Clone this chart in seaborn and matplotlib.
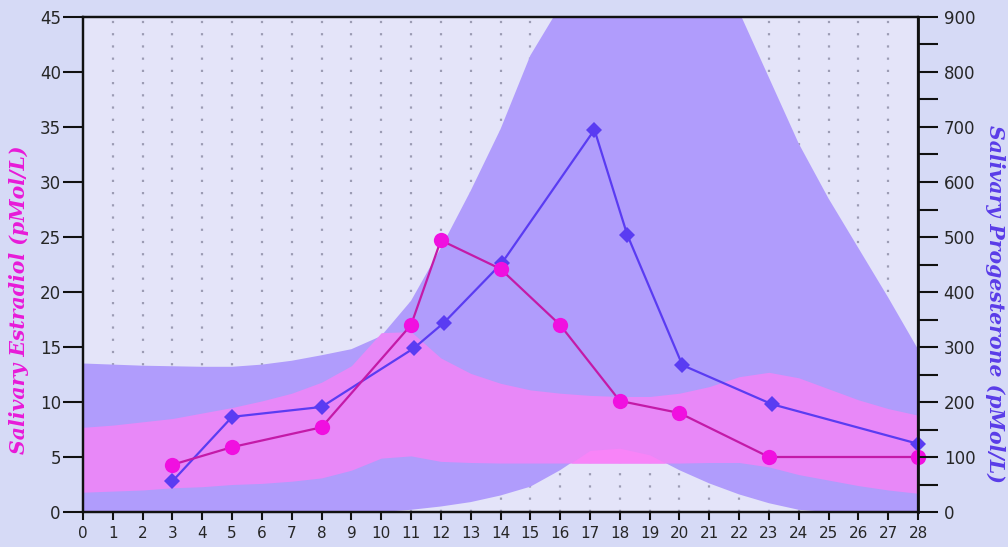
import numpy as np
import pandas as pd
import matplotlib
matplotlib.use("Agg")
import matplotlib.pyplot as plt
from matplotlib.ticker import MultipleLocator
import seaborn as sns

# ---- measured salivary hormone levels over the cycle ----
estradiol_days = [3, 5, 8, 11, 12, 14, 16, 18, 20, 23, 28]
estradiol_vals = [4.3, 5.9, 7.7, 17.0, 24.7, 22.1, 17.0, 10.1, 9.0, 5.0, 5.0]

progesterone_days = [3, 5, 8, 11.1, 12.1, 14.05, 17.15, 18.25, 20.1, 23.1, 28]
progesterone_vals = [56, 173, 191, 298, 344, 453, 695, 504, 267, 196, 124]

# ---- reference ranges (by cycle day) ----
band_days = list(range(0, 29))
# estradiol range, pMol/L (left axis)
estradiol_low = [1.8, 1.9, 2.0, 2.2, 2.3, 2.5, 2.6, 2.8, 3.1, 3.8, 4.9, 5.1, 4.6,
                 4.5, 4.45, 4.45, 4.45, 4.45, 4.45, 4.45, 4.45, 4.5, 4.5, 4.1,
                 3.4, 2.9, 2.4, 2.0, 1.7]
estradiol_high = [7.7, 7.9, 8.2, 8.5, 9.0, 9.5, 10.1, 10.8, 11.8, 13.3, 16.3, 16.4,
                  14.0, 12.6, 11.7, 11.1, 10.8, 10.6, 10.5, 10.5, 10.8, 11.4, 12.3,
                  12.7, 12.2, 11.2, 10.2, 9.4, 8.8]
# progesterone range, pMol/L (right axis)
progesterone_low = [0, 0, 0, 0, 0, 0, 0, 0, 0, 0, 0, 4, 10, 18, 30, 46, 76, 112,
                    116, 104, 76, 52, 32, 16, 4, 0, 0, 0, 0]
progesterone_high = [270, 268, 266, 265, 264, 264, 268, 275, 285, 296, 320, 384,
                     480, 584, 696, 830, 920, 960, 1000, 1000, 980, 950, 910, 790,
                     670, 570, 480, 390, 296]

day_ticks = list(range(0, 29))
estradiol_ticks = list(range(0, 46, 5))
progesterone_ticks = list(range(0, 901, 100))

E_MAX = 45
P_MAX = 900

sns.set_theme(style="white")
plt.rcParams["font.family"] = ["DejaVu Sans"]

FIG_BG = "#d6daf6"
AX_BG = "#e4e4f9"
PURPLE = "#b09cfc"
PINK = "#e888f8"
BRIGHT_PINK = "#f884f8"
E_LINE = "#c41aa8"
E_MARK = "#f010e0"
P_COLOR = "#5a3cf2"
INK = "#111111"

fig = plt.figure(figsize=(10.08, 5.47), dpi=100, facecolor=FIG_BG)
ax = fig.add_axes([83 / 1008, 35 / 547, 835 / 1008, 495 / 547])
ax.set_facecolor(AX_BG)
ax2 = ax.twinx()
ax2.patch.set_visible(False)

ax.set_xlim(0, 28)
ax.set_ylim(0, E_MAX)
ax2.set_ylim(0, P_MAX)

# dotted day guides
ax.vlines(day_ticks[1:-1], 0, E_MAX, colors="#9c9cb4", linestyles=(0, (1, 4.5)),
          linewidth=1.6, zorder=0.5)

days = np.array(band_days, dtype=float)
p_lo = np.array(progesterone_low, dtype=float)
p_hi = np.array(progesterone_high, dtype=float)
e_lo = np.array(estradiol_low, dtype=float)
e_hi = np.array(estradiol_high, dtype=float)

# progesterone range in right-axis units
ax.fill_between(days, p_lo, p_hi, color=PURPLE, linewidth=0,
                transform=ax2.transData, zorder=1)
# estradiol range
ax.fill_between(days, e_lo, e_hi, color=PINK, linewidth=0, zorder=2)
# part of the estradiol range lying outside the progesterone range
p_lo_left = p_lo * E_MAX / P_MAX
ax.fill_between(days, e_lo, np.minimum(p_lo_left, e_hi), where=p_lo_left > e_lo,
                interpolate=True, color=BRIGHT_PINK, linewidth=0, zorder=2.1)

prog_df = pd.DataFrame({"day": progesterone_days, "level": progesterone_vals})
est_df = pd.DataFrame({"day": estradiol_days, "level": estradiol_vals})

sns.lineplot(data=prog_df, x="day", y="level", ax=ax, color=P_COLOR,
             linewidth=1.6, marker="D", markersize=8.5, markeredgewidth=0,
             markerfacecolor=P_COLOR, transform=ax2.transData, zorder=3,
             clip_on=False)
sns.lineplot(data=est_df, x="day", y="level", ax=ax, color=E_LINE,
             linewidth=1.6, marker="o", markersize=11, markeredgewidth=0,
             markerfacecolor=E_MARK, zorder=4, clip_on=False)

ax.set_xlim(0, 28)
ax.set_ylim(0, E_MAX)
ax2.set_ylim(0, P_MAX)

ax.set_xticks(day_ticks)
ax.set_xticklabels([str(d) for d in day_ticks])
ax.set_yticks(estradiol_ticks)
ax2.set_yticks(progesterone_ticks)
ax2.yaxis.set_minor_locator(MultipleLocator(50))

ax.tick_params(axis="x", direction="out", length=6, width=1.5, color=INK,
               labelsize=11, pad=4, bottom=True)
ax.tick_params(axis="y", direction="out", length=14.5, width=1.5, color=INK,
               labelsize=12, pad=1.5, left=True)
ax2.tick_params(axis="y", which="both", direction="out", length=14.5, width=1.5,
                color=INK, labelsize=12, pad=4, right=True)

for sp in ax.spines.values():
    sp.set_color(INK)
    sp.set_linewidth(1.6)
for sp in ax2.spines.values():
    sp.set_color(INK)
    sp.set_linewidth(1.6)
ax2.spines["right"].set_linewidth(2)

ax.set_xlabel("")
label_font = dict(family="DejaVu Serif", fontweight="bold", style="italic",
                  fontsize=14.7)
ax.set_ylabel("Salivary Estradiol (pMol/L)", color="#e81ad8", **label_font)
ax2.set_ylabel("Salivary Progesterone (pMol/L)", color="#5a3ce8",
               rotation=270, **label_font)
ax.yaxis.set_label_coords(-0.0766, 0.428)
ax2.yaxis.set_label_coords(1.0922, 0.42)
ax.yaxis.label.set_va("center")
ax2.yaxis.label.set_va("center")

fig.savefig("out.png", dpi=100, facecolor=FIG_BG)
